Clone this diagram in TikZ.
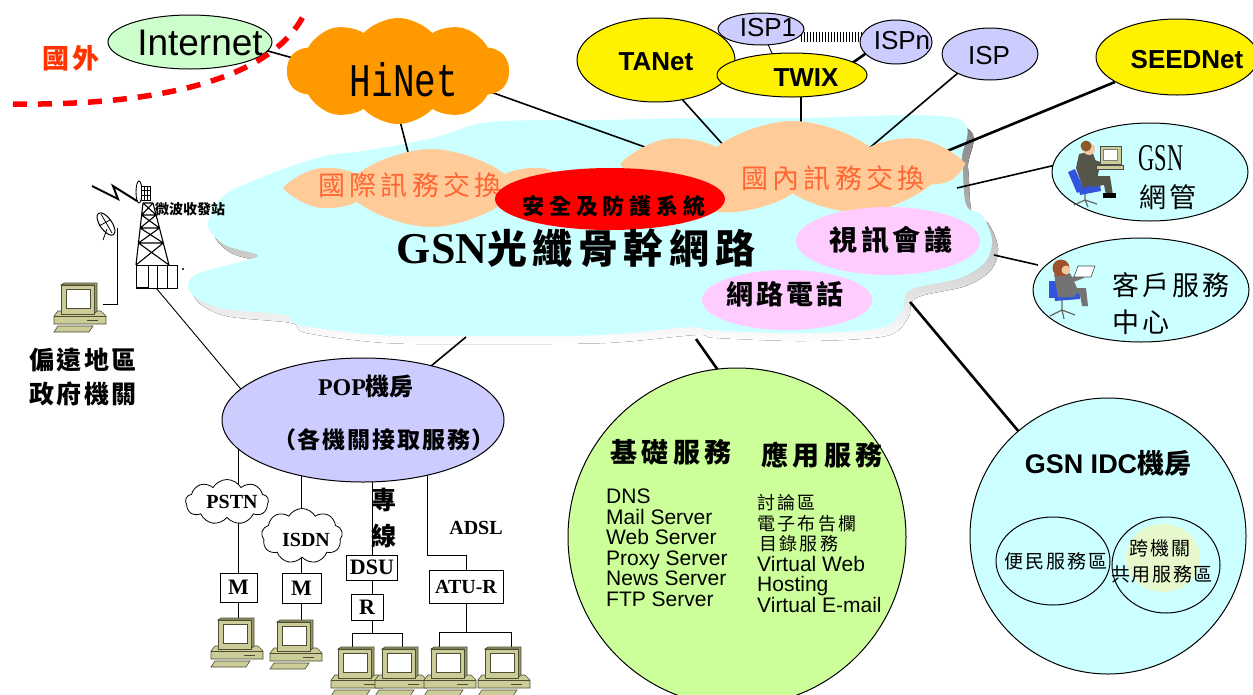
\documentclass[tikz,border=0pt]{standalone}
\usepackage{fontspec}
\usepackage{graphicx}
\setmainfont{Liberation Serif}
\newfontfamily\arial{Liberation Sans}
\newfontfamily\mono{Liberation Mono}
\newfontfamily\cjk{Noto Sans CJK TC}
\usetikzlibrary{shapes.geometric,shapes.symbols}
\pgfdeclarelayer{back}
\pgfdeclarelayer{mid}
\pgfsetlayers{back,mid,main}
\newcommand\fz[1]{\fontsize{#1}{#1}\selectfont}
\newcommand\ls[1]{\addfontfeature{LetterSpace=#1}}
\definecolor{cyanbg}{HTML}{CCFFFF}
\definecolor{shade}{HTML}{808080}
\definecolor{peach}{HTML}{FFCC99}
\definecolor{peachtext}{HTML}{FF6633}
\definecolor{pinkbg}{HTML}{FFCCFF}
\definecolor{hinetorange}{HTML}{FF9900}
\definecolor{netgreen}{HTML}{CCFFCC}
\definecolor{lav}{HTML}{CCCCFF}
\definecolor{svcgreen}{HTML}{CCFF99}
\definecolor{palegreen}{HTML}{E6F8CC}
\definecolor{abroad}{HTML}{FF3300}
\definecolor{borderred}{HTML}{FF0000}
\definecolor{pcbody}{HTML}{CCCC99}
\definecolor{pcdark}{HTML}{99996B}
\definecolor{pcedge}{HTML}{4D4D33}
\definecolor{chairblue}{HTML}{3355DD}
\definecolor{coat}{HTML}{55554A}
\definecolor{hair}{HTML}{8B5A2B}
\definecolor{redhair}{HTML}{A0522D}
\definecolor{skin}{HTML}{F2C9A0}
\tikzset{
  oval/.style={ellipse, draw=black, line width=1pt, inner sep=0pt},
  blob/.style={cloud, cloud puffs=#1, cloud ignores aspect, cloud puff arc=75, inner sep=0pt, fill=peach},
  txt/.style={inner sep=0pt},
  devbox/.style={rectangle, draw=black, line width=1pt, fill=white, inner sep=0pt, font=\bfseries\fz{22}},
  link/.style={line width=1.6pt},
  boldlink/.style={line width=2.6pt},
  wire/.style={line width=0.9pt},
  smallcloud/.style={cloud, cloud puffs=9, cloud ignores aspect, cloud puff arc=120, draw=black, line width=0.8pt, fill=white, inner sep=0pt},
  pc/.pic={
    \coordinate (-top) at (0,0);
    \coordinate (-port) at (24,21);
    \filldraw[fill=pcbody, draw=pcedge, line width=.6pt] (-21,28) -- (22,28) -- (27,33) -- (27,41) -- (-25,41) -- (-25,33) -- cycle;
    \draw[pcedge, line width=.6pt] (-25,33) -- (27,33);
    \draw[pcedge, line width=.8pt] (8,37) -- (19,37);
    \filldraw[fill=pcdark, draw=pcedge, line width=.6pt] (-18,2) -- (-15,0) -- (18,0) -- (18,28) -- (15,31) -- (15,2) -- cycle;
    \filldraw[fill=pcbody, draw=pcedge, line width=.6pt] (-18,2) rectangle (15,31);
    \filldraw[fill=white, draw=pcedge, line width=.6pt] (-13,6) rectangle (11,25);
    \filldraw[fill=pcbody, draw=pcedge, line width=.6pt] (-21,43) -- (14,43) -- (10,49) -- (-25,49) -- cycle;
  }
}
\begin{document}
\begin{tikzpicture}[x=1pt,y=-1pt]
\useasboundingbox (0,0) rectangle (1253,694);

% ---------- backbone cloud with its shadow ----------
\begin{pgfonlayer}{back}
\fill[white] (0,0) rectangle (1253,694);
\fill[shade, shift={(6,8)}] plot[smooth cycle, tension=.55] coordinates {(490,122) (600,120) (700,118) (800,118) (955,118) (962,160) (966,205) (982,215) (992,240) (985,262) (960,278) (910,290) (902,310) (880,328) (800,333) (710,330) (690,327) (600,335) (480,336) (380,335) (300,325) (285,315) (220,308) (190,292) (195,275) (240,262) (258,255) (225,245) (208,225) (222,197) (260,178) (320,157) (370,150) (433,138)};
\fill[cyanbg] plot[smooth cycle, tension=.55] coordinates {(490,122) (600,120) (700,118) (800,118) (955,118) (962,160) (966,205) (982,215) (992,240) (985,262) (960,278) (910,290) (902,310) (880,328) (800,333) (710,330) (690,327) (600,335) (480,336) (380,335) (300,325) (285,315) (220,308) (190,292) (195,275) (240,262) (258,255) (225,245) (208,225) (222,197) (260,178) (320,157) (370,150) (433,138)};
\end{pgfonlayer}
\coordinate (bbMgmt) at (957,188);
\coordinate (bbCust) at (994,255);
\coordinate (bbIdc) at (910,302);
\coordinate (bbSvc) at (696,339);
\coordinate (bbPop) at (466,337);

% ---------- upstream networks ----------
\node[oval, fill=netgreen, minimum width=164, minimum height=54] (internet) at (190,42) {};
\node[txt, font=\arial\fz{37}] (internetT) at (200,43) {Internet};
\node[cloud, cloud puffs=10, cloud puff arc=95, cloud ignores aspect, fill=hinetorange, minimum width=222, minimum height=106, inner sep=0pt] (hinet) at (398,71) {};
\node[txt] (hinetT) at (404,80) {\scalebox{1}[1.3]{\mono\fz{36}HiNet}};
\node[oval, fill=yellow, minimum width=158, minimum height=84] (tanet) at (656,60) {};
\node[txt, font=\arial\bfseries\fz{26}] (tanetT) at (656,62) {TANet};
\node[oval, fill=lav, minimum width=86, minimum height=32] (isp1) at (761,29) {};
\node[txt, font=\arial\fz{26}] (isp1T) at (768,28) {ISP1};
\node[oval, fill=yellow, minimum width=150, minimum height=44] (twix) at (792,75) {};
\node[txt, font=\arial\bfseries\fz{26}] (twixT) at (806,78) {TWIX};
\node[oval, fill=lav, minimum width=72, minimum height=44] (ispn) at (896,42) {};
\node[txt, font=\arial\fz{26}] (ispnT) at (902,41) {ISPn};
\node[oval, fill=lav, minimum width=96, minimum height=52] (isp) at (990,54) {};
\node[txt, font=\arial\fz{26}] (ispT) at (989,56) {ISP};
\node[oval, fill=yellow, minimum width=162, minimum height=76] (seednet) at (1177,57) {};
\node[txt, font=\arial\bfseries\fz{26}] (seednetT) at (1187,60) {SEEDNet};

% ---------- services inside the backbone ----------
\node[blob=6, minimum width=262, minimum height=78] (intl) at (431,188) {};
\node[blob=7, minimum width=326, minimum height=96] (dom) at (793,169) {};
\node[txt, font=\cjk\fz{27}\ls{15}, text=peachtext] (intlT) at (410,185) {國際訊務交換};
\node[txt, font=\cjk\fz{27}\ls{15}, text=peachtext] (domT) at (833,178) {國內訊務交換};
\node[ellipse, fill=red, minimum width=230, minimum height=62, inner sep=0pt] (sec) at (610,199) {};
\node[txt, font=\cjk\bfseries\fz{22}\ls{22}] (secT) at (614,206) {安全及防護系統};
\node[ellipse, fill=pinkbg, minimum width=184, minimum height=68, inner sep=0pt] (vconf) at (888,241) {};
\node[txt, font=\cjk\bfseries\fz{28}\ls{12}] (vconfT) at (891,240) {視訊會議};
\node[ellipse, fill=pinkbg, minimum width=170, minimum height=60, inner sep=0pt] (voip) at (787,300) {};
\node[txt, font=\cjk\bfseries\fz{27}\ls{12}] (voipT) at (785,294) {網路電話};
\node[txt, anchor=base] (gsnT) at (576,263) {{\bfseries\fz{44}GSN}{\cjk\bfseries\fz{40}\ls{14}光纖骨幹網路}};

% ---------- management and customer centres ----------
\node[oval, fill=cyanbg, minimum width=196, minimum height=98] (mgmt) at (1150,172) {};
\node[txt] (mgmtT1) at (1161,158) {\scalebox{.8}[1.35]{\fz{28}GSN}};
\node[txt, font=\cjk\fz{27}\ls{8}] (mgmtT2) at (1168,197) {網管};
\node[oval, fill=cyanbg, minimum width=216, minimum height=104] (cust) at (1141,290) {};
\node[txt, anchor=west, font=\cjk\fz{27}\ls{12}] (custT1) at (1112,285) {客戶服務};
\node[txt, anchor=west, font=\cjk\fz{27}\ls{12}] (custT2) at (1112,322) {中心};

% network administrator at a terminal
\draw[black!60, line width=1.2pt] (1085,193) -- (1085,200) (1074,205) -- (1085,200) -- (1097,204) (1085,200) -- (1088,207);
\fill[chairblue] (1068,172) -- (1075,169) -- (1084,189) -- (1077,193) -- cycle;
\fill[chairblue] (1078,187) -- (1100,184) -- (1101,191) -- (1080,195) -- cycle;
\fill[coat] (1079,154) -- (1092,151) -- (1099,170) -- (1096,184) -- (1083,188) -- (1076,168) -- cycle;
\fill[coat] (1089,176) -- (1110,176) -- (1113,195) -- (1106,195) -- (1104,185) -- (1092,187) -- cycle;
\fill[black] (1103,193) rectangle (1116,198);
\fill[coat] (1089,158) -- (1106,164) -- (1104,169) -- (1087,165) -- cycle;
\fill[skin] (1089,149) circle (6);
\fill[hair] (1086,146) circle (5.5);
\filldraw[fill=pcbody, draw=black!70, line width=.6pt] (1100,146) rectangle (1121,164);
\filldraw[fill=white, draw=black!50, line width=.4pt] (1103,149) rectangle (1117,160);
\filldraw[fill=pcbody, draw=black!70, line width=.5pt] (1096,165) rectangle (1123,169);

% customer service agent with a laptop
\draw[black!60, line width=1.2pt] (1062,300) -- (1062,310) (1050,316) -- (1062,310) -- (1075,315) (1062,310) -- (1064,319);
\fill[chairblue] (1049,281) rectangle (1057,298);
\fill[chairblue] (1054,293) -- (1080,292) -- (1080,299) -- (1055,301) -- cycle;
\fill[black!55] (1054,274) -- (1070,273) -- (1078,290) -- (1074,297) -- (1058,297) -- cycle;
\fill[black!55] (1068,288) -- (1086,288) -- (1088,306) -- (1082,306) -- (1080,295) -- cycle;
\fill[black!55] (1066,279) -- (1082,274) -- (1084,278) -- (1068,284) -- cycle;
\fill[redhair] (1061,268) circle (8.5);
\fill[skin] (1066,270) circle (4.5);
\filldraw[fill=white, draw=black!70, line width=.6pt] (1078,266) -- (1095,266) -- (1091,277) -- (1074,277) -- cycle;

% ---------- data centre ----------
\node[circle, draw=black, line width=1pt, fill=cyanbg, minimum size=276, inner sep=0pt] (idc) at (1108,536) {};
\node[txt, font=\arial\bfseries\fz{27}] (idcT) at (1108,463) {GSN IDC{\cjk\bfseries 機房}};
\fill[palegreen] (1163,558) ellipse (37 and 34);
\node[oval, minimum width=114, minimum height=88] (civic) at (1053,561) {};
\node[oval, minimum width=108, minimum height=96] (shared) at (1166,565) {};
\node[txt, font=\cjk\fz{19}\ls{10}] (civicT) at (1056,561) {便民服務區};
\node[txt, font=\cjk\fz{19}\ls{10}] (sharedT1) at (1160,548) {跨機關};
\node[txt, font=\cjk\fz{19}\ls{8}] (sharedT2) at (1162,574) {共用服務區};

% ---------- service circle ----------
\node[circle, draw=black, line width=1pt, fill=svcgreen, minimum size=338, inner sep=0pt] (svc) at (737,537) {};
\node[txt, font=\cjk\bfseries\fz{27}\ls{15}] (basicT) at (671,452) {基礎服務};
\node[txt, font=\cjk\bfseries\fz{27}\ls{15}] (appT) at (822,455) {應用服務};
\node[txt, anchor=base west, font=\arial\fz{21}] (b1) at (606,503.5) {DNS};
\node[txt, anchor=base west, font=\arial\fz{21}] (b2) at (606,524) {Mail Server};
\node[txt, anchor=base west, font=\arial\fz{21}] (b3) at (606,544.5) {Web Server};
\node[txt, anchor=base west, font=\arial\fz{21}] (b4) at (606,565) {Proxy Server};
\node[txt, anchor=base west, font=\arial\fz{21}] (b5) at (606,585.5) {News Server};
\node[txt, anchor=base west, font=\arial\fz{21}] (b6) at (606,606) {FTP Server};
\node[txt, anchor=base west, font=\cjk\fz{18}\ls{13}] (a1) at (757,509) {討論區};
\node[txt, anchor=base west, font=\cjk\fz{18}\ls{13}] (a2) at (757,530) {電子布告欄};
\node[txt, anchor=base west, font=\cjk\fz{18}\ls{13}] (a3) at (759,550) {目錄服務};
\node[txt, anchor=base west, font=\arial\fz{21}] (a4) at (757,571.5) {Virtual Web};
\node[txt, anchor=base west, font=\arial\fz{21}] (a5) at (757,591.5) {Hosting};
\node[txt, anchor=base west, font=\arial\fz{21}] (a6) at (757,612) {Virtual E-mail};

% ---------- access side ----------
\node[oval, fill=lav, minimum width=282, minimum height=124] (pop) at (363,420) {};
\node[txt] (popT1) at (366,387) {{\bfseries\fz{24}POP}{\cjk\bfseries\fz{24}機房}};
\node[txt, font=\cjk\bfseries\fz{23}\ls{8}] (popT2) at (384,440) {（各機關接取服務）};

\node[smallcloud, minimum width=83, minimum height=45] (pstn) at (227,502) {};
\node[txt, font=\bfseries\fz{20}] (pstnT) at (232,502) {PSTN};
\node[smallcloud, minimum width=81, minimum height=55] (isdn) at (302,536) {};
\node[txt, font=\bfseries\fz{20}] (isdnT) at (306,540) {ISDN};
\node[devbox, minimum width=37, minimum height=29] (m1) at (238.5,587.5) {M};
\node[devbox, minimum width=39, minimum height=30] (m2) at (301.5,588) {M};
\node[devbox, minimum width=51, minimum height=25] (dsu) at (372,567.5) {DSU};
\node[devbox, minimum width=32, minimum height=26] (r) at (367,607) {R};
\node[devbox, minimum width=74, minimum height=33, font=\bfseries\fz{20}] (atu) at (466,586.5) {ATU-R};
\node[txt, font=\cjk\bfseries\fz{25}] (leasedT1) at (384,500) {專};
\node[txt, font=\cjk\bfseries\fz{25}] (leasedT2) at (384,536) {線};
\node[txt, font=\bfseries\fz{20}] (adslT) at (476,528) {ADSL};
\pic (pc1) at (236,618) {pc};
\pic (pc2) at (295,620) {pc};
\pic (pc3) at (356,647) {pc};
\pic (pc4) at (400,647) {pc};
\pic (pc5) at (449,647) {pc};
\pic (pc6) at (503,647) {pc};
\coordinate (busA) at (372,633);
\coordinate (busB) at (466,632);
\coordinate (adslBend) at (427,555);

% ---------- remote site with microwave link ----------
\pic (rpc) at (79,283) {pc};
\node[txt, font=\cjk\bfseries\fz{25}\ls{10}] (remoteT1) at (83,360) {偏遠地區};
\node[txt, font=\cjk\bfseries\fz{25}\ls{10}] (remoteT2) at (83,394) {政府機關};
\coordinate (dishfoot) at (117,228);
\draw[line width=1pt, rotate around={-55:(106,224)}] (106,224) ellipse (13 and 6);
\draw[line width=.8pt] (101,214) -- (112,233) (99,226) -- (110,220) (107,229) -- (103,240);
\draw[line width=2pt] (92,186) -- (118,199) -- (113,186) -- (137,201);
% lattice tower
\draw[line width=1.1pt] (143,203) -- (136,265) (153,203) -- (169,265)
  (143,203) -- (153,203) (141.6,215) -- (156.1,215) (140.2,228) -- (159.5,228) (138.5,243) -- (163.3,243)
  (143,203) -- (156.1,215) (153,203) -- (141.6,215)
  (141.6,215) -- (159.5,228) (156.1,215) -- (140.2,228)
  (140.2,228) -- (163.3,243) (159.5,228) -- (138.5,243)
  (138.5,243) -- (169,265) (163.3,243) -- (136,265);
\draw[line width=.9pt] (139,192) ellipse (3 and 11);
\filldraw[fill=white, line width=.9pt] (141,186) rectangle (150,200);
\draw[line width=.6pt] (141,190.5) -- (150,190.5) (141,195) -- (150,195) (144,186) -- (144,200) (147,186) -- (147,200);
\node[txt, font=\cjk\bfseries\fz{14}] (towerT) at (190,209) {微波收發站};
\node[rectangle, draw=black, line width=1pt, fill=white, minimum width=41, minimum height=23, inner sep=0pt] (rack) at (156.5,276.5) {};
\draw[line width=1pt] (148,265) -- (148,288) (157,265) -- (157,288) (167,265) -- (167,288);
\draw[line width=2pt] (136,288) -- (148,288);
\fill (183,269) circle (1.1);

% ---------- connectors ----------
\begin{pgfonlayer}{mid}
\draw[link] ([shift={(60,4)}]internet.center) -- ([shift={(-80,-6)}]hinet.center);
\draw[link] ([shift={(1,46)}]hinet.center) -- ([shift={(-21,-28)}]intl.center);
\draw[link] ([shift={(90,20)}]hinet.center) -- ([shift={(-123,-13)}]dom.center);
\draw[link] ([shift={(24,37)}]tanet.center) -- ([shift={(-68,-22)}]dom.center);
\draw[link] ([shift={(9,15)}]twix.center) -- ([shift={(8,-9)}]dom.center);
\draw[wire] ([shift={(6,13)}]isp1.center) -- ([shift={(-18,-17)}]twix.center);
\draw[boldlink] ([shift={(-28,10)}]ispn.center) -- ([shift={(56,-9)}]twix.center);
\draw[line width=10pt, dash pattern=on 1.3pt off 1.7pt] ([shift={(40,8)}]isp1.center) -- ([shift={(-34,-5)}]ispn.center);
\draw[link] ([shift={(-25,13)}]isp.center) -- ([shift={(67,-13)}]dom.center);
\draw[boldlink] ([shift={(-62,25)}]seednet.center) -- ([shift={(137,-11)}]dom.center);
\draw[link] ([shift={(-90,-8)}]mgmt.center) -- (bbMgmt);
\draw[link] ([shift={(-103,-25)}]cust.center) -- (bbCust);
\draw[boldlink] ([shift={(-78,-91)}]idc.center) -- (bbIdc);
\draw[boldlink] ([shift={(-17,-164)}]svc.center) -- (bbSvc);
\draw[link] ([shift={(62,-49)}]pop.center) -- (bbPop);
\draw[wire] (rack.south) -- ([shift={(-113,-20)}]pop.center);
\draw[wire] (rpc-port) -| (dishfoot);
\draw[wire] (m1 |- pop.center) -- (m1.center);
\draw[wire] (m1.south) -- (m1.south |- pc1-top);
\draw[wire] (m2 |- pop.center) -- (m2.center);
\draw[wire] (m2.south) -- (m2.south |- pc2-top);
\draw[wire] (dsu |- pop.center) -- (busA);
\draw[wire] ([xshift=-4]pc3-top) |- (busA) -| ([xshift=2]pc4-top);
\draw[wire] (adslBend |- pop.center) -- (adslBend) -| (atu.north);
\draw[wire] (atu.south) -- (busB);
\draw[wire] ([xshift=-10]pc5-top) |- (busB) -| ([xshift=8]pc6-top);
\end{pgfonlayer}

% ---------- domestic / foreign boundary ----------
\draw[borderred, line width=5.5pt, dash pattern=on 14pt off 11pt] (13,104) .. controls (170,106) and (280,75) .. (307,8);
\node[txt, font=\cjk\bfseries\fz{27}\ls{12}, text=abroad] (abroadT) at (71,58) {國外};
\end{tikzpicture}
\end{document}
